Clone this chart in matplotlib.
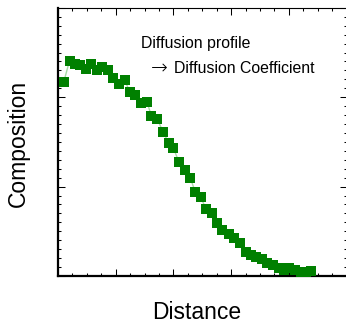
import matplotlib
matplotlib.use('Agg')
import matplotlib.pyplot as plt
from matplotlib.ticker import MultipleLocator, NullFormatter

plt.rcParams['font.family'] = ['Liberation Sans', 'DejaVu Sans']

# measured diffusion profile (distance, composition), arbitrary units
distance = [0.10, 0.20, 0.29, 0.38, 0.49, 0.58, 0.68, 0.76, 0.87, 0.96,
            1.05, 1.16, 1.24, 1.34, 1.43, 1.54, 1.62, 1.72, 1.82, 1.92,
            2.00, 2.10, 2.20, 2.29, 2.38, 2.47, 2.57, 2.67, 2.76, 2.85,
            2.96, 3.05, 3.15, 3.25, 3.35, 3.44, 3.54, 3.63, 3.72, 3.83,
            3.92, 4.01, 4.10, 4.21, 4.29, 4.38]
composition = [2.17, 2.41, 2.37, 2.36, 2.32, 2.37, 2.30, 2.34, 2.30, 2.22,
               2.15, 2.19, 2.06, 2.02, 1.94, 1.95, 1.79, 1.76, 1.61, 1.49,
               1.43, 1.27, 1.19, 1.10, 0.94, 0.88, 0.75, 0.71, 0.59, 0.52,
               0.47, 0.43, 0.37, 0.27, 0.23, 0.21, 0.19, 0.15, 0.12, 0.09,
               0.07, 0.09, 0.07, 0.05, 0.03, 0.06]

W, H = 346, 325
fig = plt.figure(figsize=(W / 100, H / 100), dpi=100)
x0, x1, y0, y1 = 58, 346.5, 276, 7.8
ax = fig.add_axes([x0 / W, 1 - y0 / H, (x1 - x0) / W, (y0 - y1) / H])

ax.plot(distance, composition, '-', color='#a6dba6', lw=1.0, zorder=2)
ax.plot(distance, composition, 's', color='#008000', ms=6.6, mew=0, zorder=3)

ax.set_xlim(0, 5)
ax.set_ylim(0, 3)
ax.xaxis.set_major_locator(MultipleLocator(1))
ax.xaxis.set_minor_locator(MultipleLocator(0.25))
ax.yaxis.set_major_locator(MultipleLocator(1))
ax.yaxis.set_minor_locator(MultipleLocator(0.1))
ax.xaxis.set_major_formatter(NullFormatter())
ax.yaxis.set_major_formatter(NullFormatter())
ax.tick_params(which='both', direction='in', top=True, right=True, width=0.75)
ax.tick_params(which='major', length=4.8)
ax.tick_params(which='minor', length=2.4)
for side in ('left', 'bottom'):
    ax.spines[side].set_linewidth(1.6)
for side in ('top', 'right'):
    ax.spines[side].set_linewidth(0.8)

# annotation, placed in pixel units
def px(x, y):
    return x / W, 1 - y / H

fig.text(*px(141, 48.3), 'Diffusion profile', fontsize=11.4, va='baseline', ha='left')
fig.text(*px(150.5, 74.6), '\u2192', fontsize=14.5, va='baseline', ha='left',
         family=['DejaVu Sans'], fontweight='light')
fig.text(*px(173.7, 73.3), 'Diffusion Coefficient', fontsize=11.4, va='baseline',
         ha='left')

fig.text(*px(197, 312.5), 'Distance', fontsize=16.5, ha='center', va='center')
fig.text(*px(18.5, 143), 'Composition', fontsize=16.5, ha='center', va='center',
         rotation=90)

fig.savefig('out.png', dpi=100)
